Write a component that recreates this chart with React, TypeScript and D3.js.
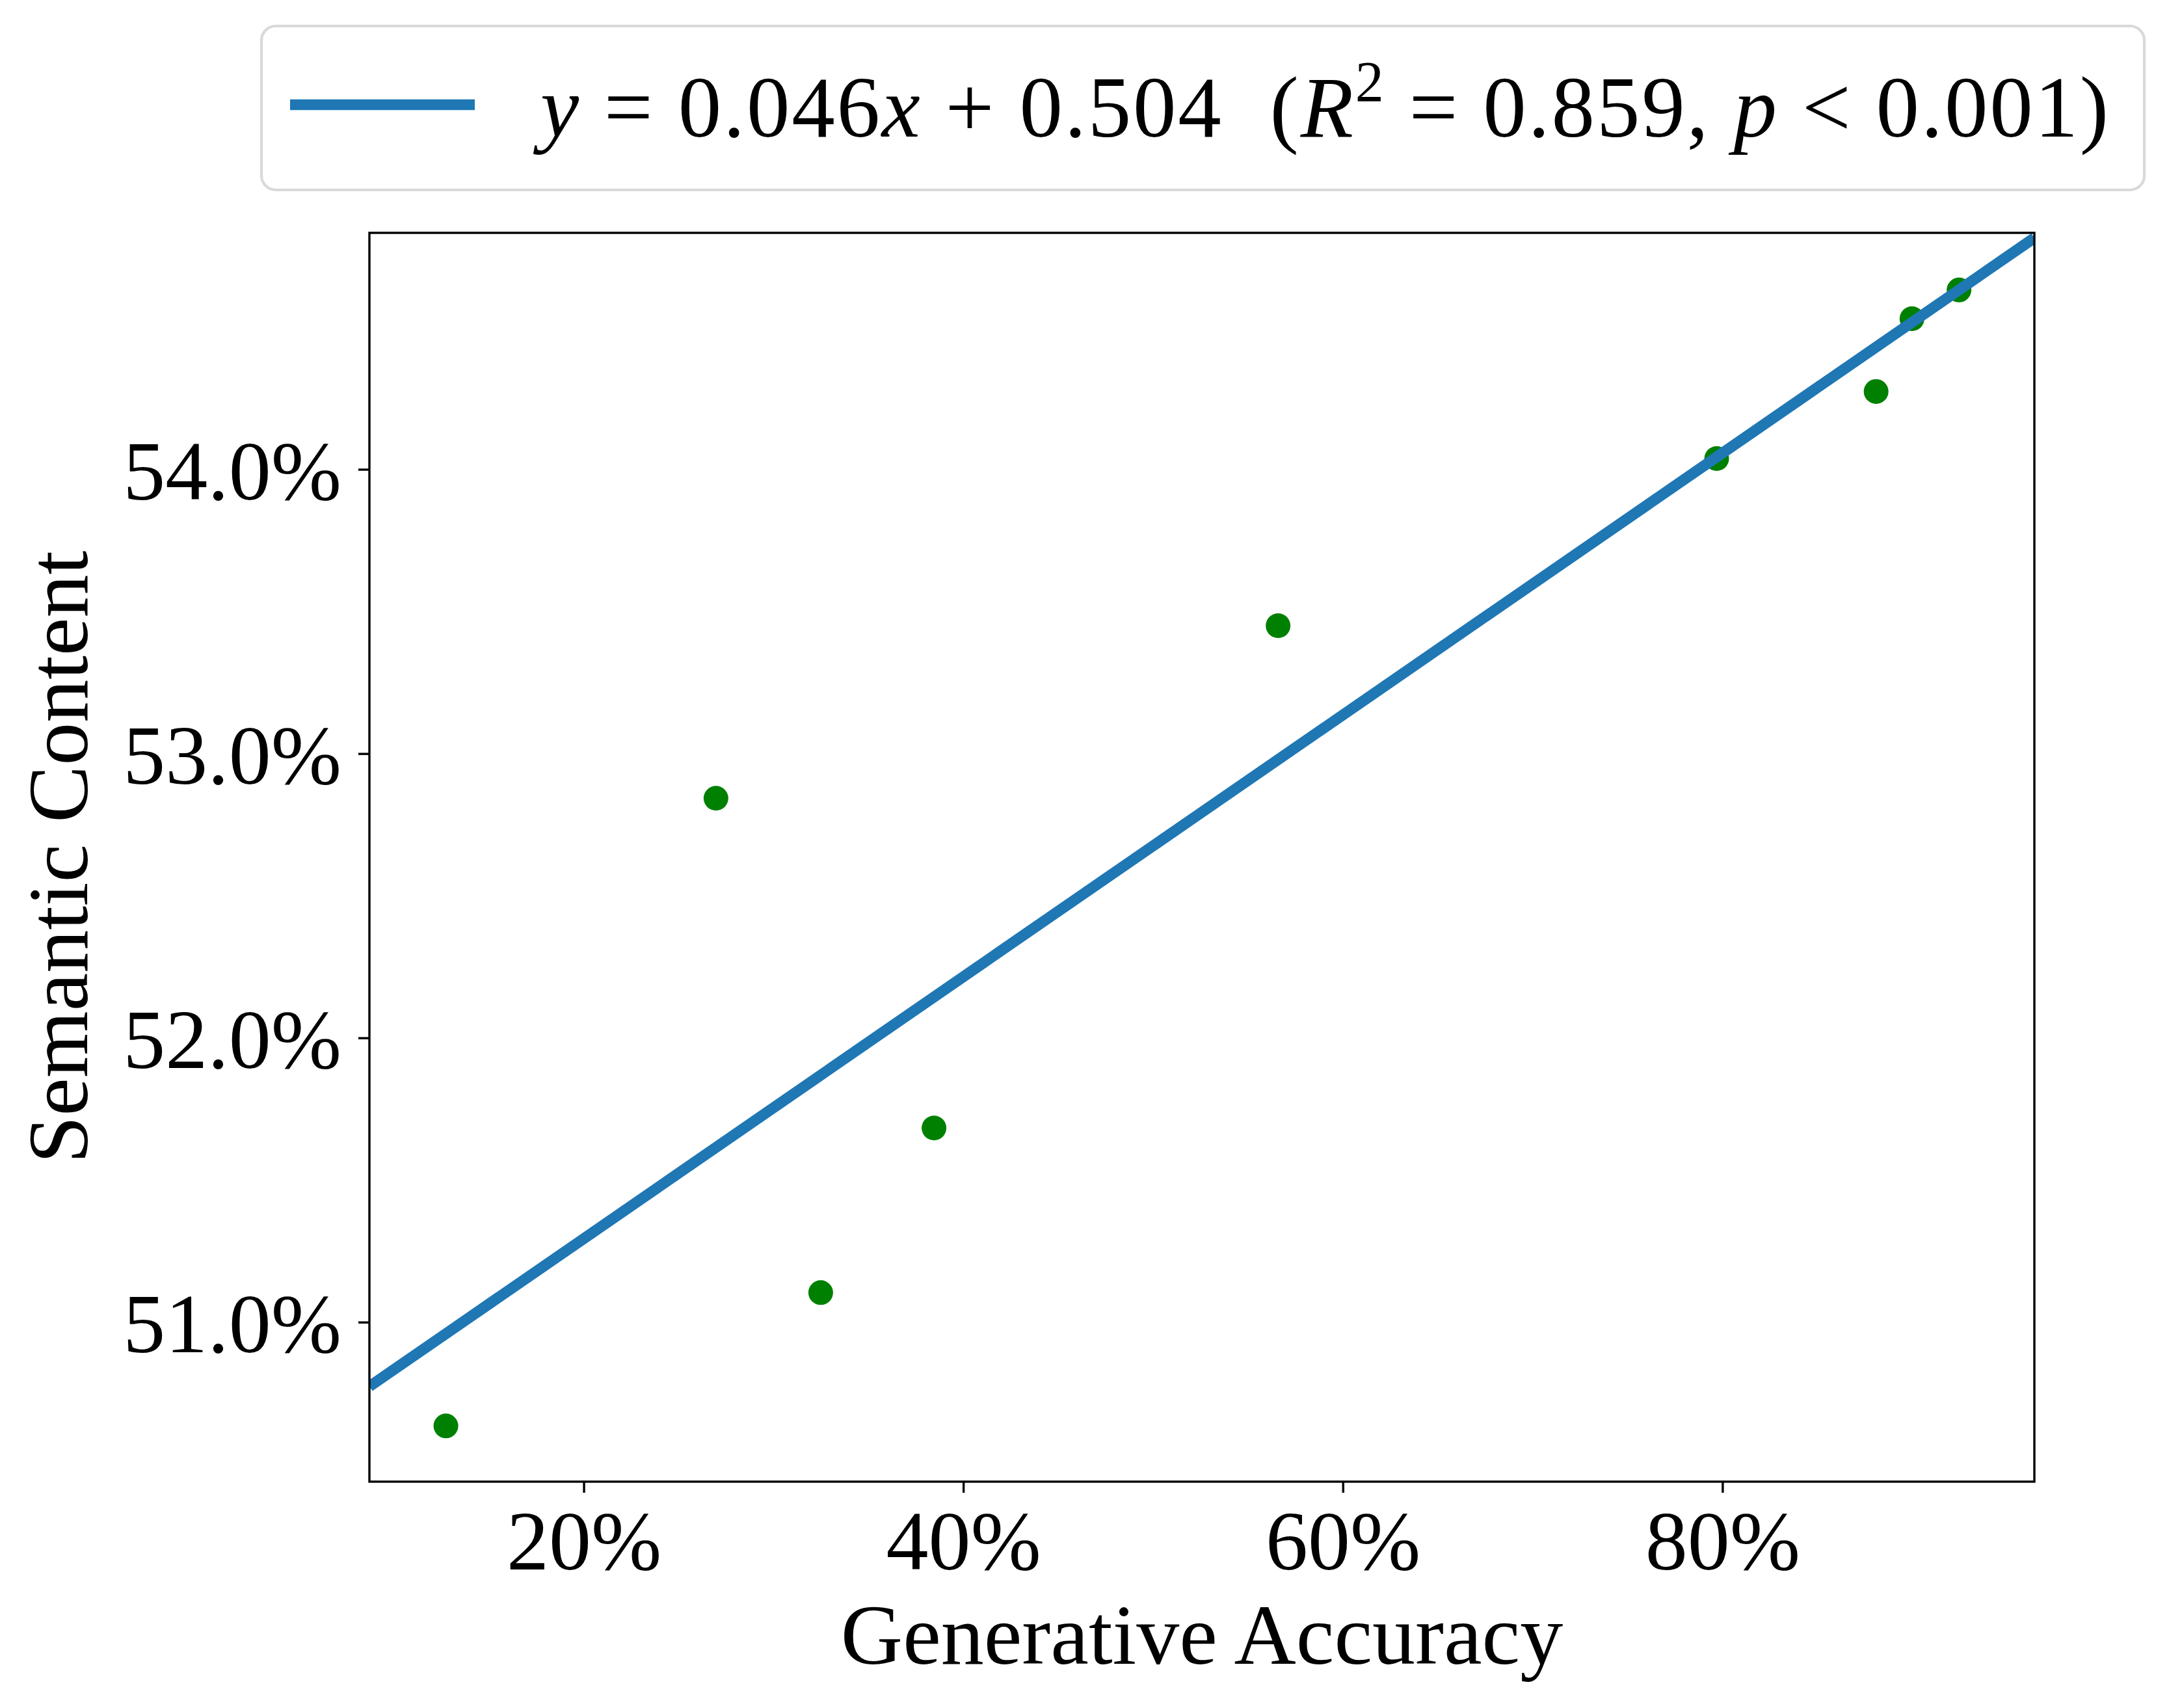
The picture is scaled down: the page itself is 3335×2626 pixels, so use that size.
import * as d3 from 'd3';

// Data (percent units)
const genAccuracy = [12.72, 26.95, 32.47, 38.44, 56.57, 79.68, 88.08, 89.97, 92.45];
const semContent = [50.636, 52.844, 51.105, 51.684, 53.451, 54.039, 54.275, 54.531, 54.632];

const xTicks = [20, 40, 60, 80];
const yTicks = [51, 52, 53, 54];
const xLimits = [8.69, 96.42];
const yLimits = [50.44, 54.833];

const xLabel = 'Generative Accuracy';
const yLabel = 'Semantic Content';

const legendParts = [
  { text: 'y', italic: true },
  { text: ' = 0.046', italic: false },
  { text: 'x', italic: true },
  { text: ' + 0.504  (', italic: false },
  { text: 'R', italic: true },
  { text: '2', italic: false, sup: true },
  { text: ' = 0.859, ', italic: false },
  { text: 'p', italic: true },
  { text: ' < 0.001)', italic: false },
];

const W = 3335;
const H = 2626;
const margin = { left: 568, right: W - 3128, top: 358, bottom: H - 2278 };
const FONT = '"Liberation Serif", "Times New Roman", serif';
const BLUE = '#1f77b4';
const GREEN = '#008000';

function fitLine(xs: number[], ys: number[]) {
  const mx = d3.mean(xs)!;
  const my = d3.mean(ys)!;
  let sxy = 0;
  let sxx = 0;
  xs.forEach((x, i) => {
    sxy += (x - mx) * (ys[i] - my);
    sxx += (x - mx) * (x - mx);
  });
  const slope = sxy / sxx;
  return { slope, intercept: my - slope * mx };
}

export default function App() {
  const x = d3.scaleLinear().domain(xLimits).range([margin.left, W - margin.right]);
  const y = d3.scaleLinear().domain(yLimits).range([H - margin.bottom, margin.top]);
  const [x0, x1] = x.range();
  const [y0, y1] = y.range();

  // least-squares fit of the points, drawn across the full x range
  const { slope, intercept } = fitLine(genAccuracy, semContent);
  const fitPath = d3.line<number>()
    .x((d) => x(d))
    .y((d) => y(slope * d + intercept))(xLimits);

  const points = genAccuracy.map((g, i) => ({ g, s: semContent[i] }));
  const tickLen = 17;
  const axisFont = 132;
  const tickFont = 130;

  return (
    <svg width={W} height={H} style={{ position: 'absolute', left: 0, top: 0, background: '#fff' }} fontFamily={FONT}>
      <rect x={0} y={0} width={W} height={H} fill="#fff" />
      <defs>
        <clipPath id="plot-clip">
          <rect x={x0} y={y1} width={x1 - x0} height={y0 - y1} />
        </clipPath>
      </defs>

      {/* scatter points, fit line on top */}
      <g clipPath="url(#plot-clip)">
        {points.map((p, i) => (
          <circle key={i} cx={x(p.g)} cy={y(p.s)} r={19} fill={GREEN} />
        ))}
        <path d={fitPath ?? ''} fill="none" stroke={BLUE} strokeWidth={16.7} />
      </g>

      {/* frame */}
      <rect x={x0} y={y1} width={x1 - x0} height={y0 - y1} fill="none" stroke="#000" strokeWidth={3.4} />

      {/* x axis ticks */}
      {xTicks.map((t) => (
        <g key={t} transform={`translate(${x(t)},${y0})`}>
          <line y1={0} y2={tickLen} stroke="#000" strokeWidth={3.4} />
          <text y={135} textAnchor="middle" fontSize={tickFont} fill="#000">{`${t}%`}</text>
        </g>
      ))}

      {/* y axis ticks */}
      {yTicks.map((t) => (
        <g key={t} transform={`translate(${x0},${y(t)})`}>
          <line x1={0} x2={-tickLen} stroke="#000" strokeWidth={3.4} />
          <text x={-43} dy="0.355em" textAnchor="end" fontSize={tickFont} fill="#000">{`${t.toFixed(1)}%`}</text>
        </g>
      ))}

      {/* axis labels */}
      <text x={(x0 + x1) / 2} y={2558} textAnchor="middle" fontSize={axisFont} fill="#000">{xLabel}</text>
      <text transform={`translate(134,${(y0 + y1) / 2}) rotate(-90)`} textAnchor="middle" fontSize={axisFont} fill="#000">{yLabel}</text>

      {/* legend */}
      <g>
        <rect x={402} y={40} width={3297 - 402} height={252} rx={22} ry={22} fill="#fff" stroke="#d9d9d9" strokeWidth={4.2} />
        <line x1={446} x2={730} y1={161} y2={161} stroke={BLUE} strokeWidth={16.7} />
        <text x={831} y={210} fontSize={133} fill="#000" textLength={2411} lengthAdjust="spacing" style={{ whiteSpace: 'pre' }}>
          {legendParts.map((p, i) => {
            const prevSup = i > 0 && legendParts[i - 1].sup;
            return (
              <tspan
                key={i}
                fontStyle={p.italic ? 'italic' : 'normal'}
                fontSize={p.sup ? 88 : 133}
                dy={p.sup ? -55 : prevSup ? 55 : 0}
              >
                {p.text}
              </tspan>
            );
          })}
        </text>
      </g>
    </svg>
  );
}
